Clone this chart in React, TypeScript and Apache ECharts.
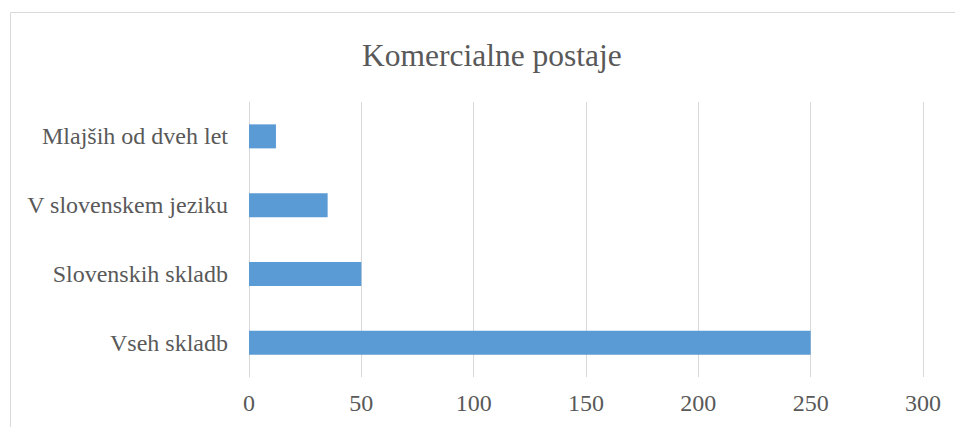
import React, { useEffect, useRef } from "react";
import * as echarts from "echarts";

const chartTitle = "Komercialne postaje";
const categories = ["Vseh skladb", "Slovenskih skladb", "V slovenskem jeziku", "Mlajših od dveh let"];
const values = [250, 50, 35, 12];
const axisMin = 0;
const axisMax = 300;
const axisInterval = 50;

export default function App() {
  const ref = useRef<HTMLDivElement>(null);
  useEffect(() => {
    if (!ref.current) return;
    const chart = echarts.init(ref.current, undefined, { renderer: "svg" });
    const font = "Liberation Serif";
    chart.setOption({
      animation: false,
      backgroundColor: "#ffffff",
      title: {
        text: chartTitle,
        left: 357,
        top: 34,
        textStyle: { fontFamily: font, fontSize: 31.5, fontWeight: "normal", color: "#595959" },
      },
      graphic: [
        {
          type: "rect",
          shape: { x: 10.5, y: 12.5, width: 1200, height: 800 },
          style: { fill: "none", stroke: "#d9d9d9", lineWidth: 1 },
          silent: true,
        },
      ],
      grid: { left: 249, right: 32, top: 102, bottom: 50, containLabel: false },
      xAxis: {
        type: "value",
        min: axisMin,
        max: axisMax,
        interval: axisInterval,
        axisLine: { show: false },
        axisTick: { show: false },
        splitLine: { show: true, lineStyle: { color: "#d9d9d9", width: 1 } },
        axisLabel: { fontFamily: font, fontSize: 24, color: "#595959", margin: 14 },
      },
      yAxis: {
        type: "category",
        data: categories,
        axisLine: { show: true, lineStyle: { color: "#d9d9d9", width: 1 } },
        axisTick: { show: false },
        axisLabel: { fontFamily: font, fontSize: 24, color: "#595959", margin: 21 },
      },
      series: [
        {
          type: "bar",
          data: values,
          barWidth: 24,
          itemStyle: { color: "#5b9bd5" },
        },
      ],
    });
    return () => chart.dispose();
  }, []);
  return (
    <div
      ref={ref}
      style={{ position: "fixed", left: 0, top: 0, width: 955, height: 427 }}
    />
  );
}
